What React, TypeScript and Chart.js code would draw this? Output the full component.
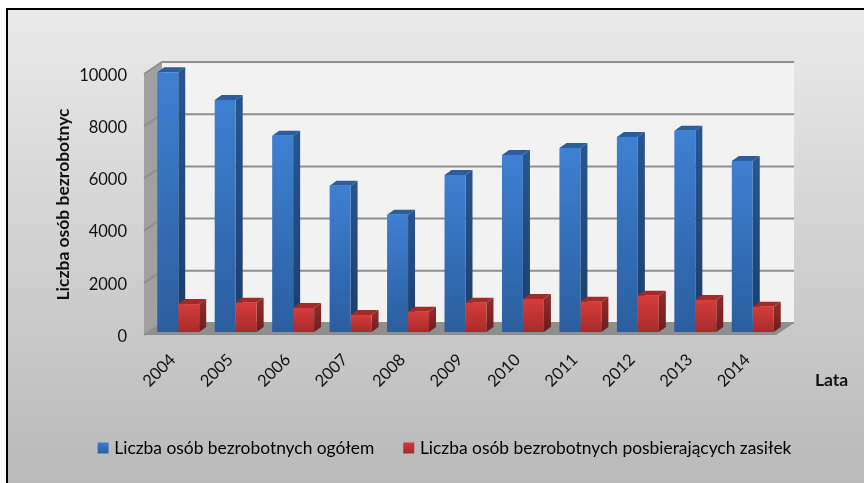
import React, { useEffect, useRef } from "react";
import { Chart, registerables } from "chart.js";

Chart.register(...registerables);

const years = ["2004", "2005", "2006", "2007", "2008", "2009", "2010", "2011", "2012", "2013", "2014"];
const totalUnemployed = [9950, 8890, 7520, 5605, 4490, 6015, 6780, 7050, 7470, 7710, 6550];
const benefitRecipients = [1070, 1120, 920, 650, 780, 1120, 1265, 1160, 1390, 1225, 970];
const yTicks = [0, 2000, 4000, 6000, 8000, 10000];
const seriesNames = ["Liczba osób bezrobotnych ogółem", "Liczba osób bezrobotnych posbierających zasiłek"];
const yTitle = "Liczba osób bezrobotnyc";
const xTitle = "Lata";

const FONT = "Lato, 'Noto Sans', sans-serif";
const WALL_DX = 18;
const WALL_DY = -12;
const BAR_DX = 5.5;
const BAR_DY = -3;
const SIDE_DX = 7;
const SIDE_DY = -5;

const palette = [
  { top: "#3f80d2", bottom: "#2b5e9f", sideTop: "#27558f", sideBottom: "#1b3e6a", lid: "#2c5d9d" },
  { top: "#d63c3a", bottom: "#a72c2c", sideTop: "#8c2b29", sideBottom: "#6c1e1e", lid: "#a32a29" },
];

const scene = {
  id: "scene",
  beforeDraw(chart: any) {
    const { ctx, width, height } = chart;
    ctx.save();
    ctx.fillStyle = "#ffffff";
    ctx.fillRect(0, 0, width, height);
    const g = ctx.createLinearGradient(0, 8, 0, height);
    g.addColorStop(0, "#eaeaea");
    g.addColorStop(1, "#b9b9b9");
    ctx.fillStyle = g;
    ctx.fillRect(6, 8, width - 6, height - 8);
    ctx.fillStyle = "#000000";
    ctx.fillRect(6, 8, width - 6, 2);
    ctx.fillRect(6, 8, 2, height - 8);
    ctx.restore();
  },
  beforeDatasetsDraw(chart: any) {
    const { ctx, chartArea: a, scales } = chart;
    const y = scales.y;
    const l = a.left, r = a.right, t = a.top, b = a.bottom;
    ctx.save();
    const poly = (pts: number[][], fill: string) => {
      ctx.beginPath();
      pts.forEach((p, i) => (i ? ctx.lineTo(p[0], p[1]) : ctx.moveTo(p[0], p[1])));
      ctx.closePath();
      ctx.fillStyle = fill;
      ctx.fill();
    };
    poly([[l + WALL_DX, t + WALL_DY], [r + WALL_DX, t + WALL_DY], [r + WALL_DX, b + WALL_DY], [l + WALL_DX, b + WALL_DY]], "#f2f2f2");
    poly([[l, t], [l + WALL_DX, t + WALL_DY], [l + WALL_DX, b + WALL_DY], [l, b]], "#a0a0a0");
    poly([[l, b], [l + WALL_DX, b + WALL_DY], [r + WALL_DX, b + WALL_DY], [r, b]], "#8e8e8e");
    ctx.lineWidth = 2;
    ctx.strokeStyle = "#8f8f8f";
    yTicks.forEach((v) => {
      const p = y.getPixelForValue(v);
      ctx.beginPath();
      ctx.moveTo(l, p);
      ctx.lineTo(l + WALL_DX, p + WALL_DY);
      ctx.lineTo(r + WALL_DX, p + WALL_DY);
      ctx.stroke();
    });
    ctx.restore();

    ctx.save();
    ctx.translate(BAR_DX, BAR_DY);
    [0, 1].forEach((di) => {
      const c = palette[di];
      chart.getDatasetMeta(di).data.forEach((bar: any) => {
        const x0 = bar.x - bar.width / 2;
        const x1 = bar.x + bar.width / 2;
        const g = ctx.createLinearGradient(0, bar.y, 0, bar.base);
        g.addColorStop(0, c.sideTop);
        g.addColorStop(1, c.sideBottom);
        ctx.fillStyle = g;
        ctx.beginPath();
        ctx.moveTo(x1, bar.y);
        ctx.lineTo(x1 + SIDE_DX, bar.y + SIDE_DY);
        ctx.lineTo(x1 + SIDE_DX, bar.base + SIDE_DY);
        ctx.lineTo(x1, bar.base);
        ctx.closePath();
        ctx.fill();
        ctx.fillStyle = c.lid;
        ctx.beginPath();
        ctx.moveTo(x0, bar.y);
        ctx.lineTo(x0 + SIDE_DX, bar.y + SIDE_DY);
        ctx.lineTo(x1 + SIDE_DX, bar.y + SIDE_DY);
        ctx.lineTo(x1, bar.y);
        ctx.closePath();
        ctx.fill();
      });
    });
  },
  afterDatasetsDraw(chart: any) {
    chart.ctx.restore();
    const { ctx } = chart;
    ctx.save();
    ctx.font = `bold 17.5px ${FONT}`;
    ctx.fillStyle = "#111111";
    ctx.textAlign = "left";
    ctx.textBaseline = "middle";
    ctx.fillText(xTitle, 815, 380);
    ctx.restore();
  },
  afterLayout(chart: any) {
    const lg = chart.legend;
    if (lg) {
      const shift = 446 - (lg.left + lg.right) / 2;
      lg.left += shift;
      lg.right += shift;
      const h = lg.bottom - lg.top;
      lg.top = 437 - h / 2;
      lg.bottom = lg.top + h;
    }
  },
};

function barFill(di: number) {
  return (c: any) => {
    const chart = c.chart;
    if (!chart.chartArea || c.type !== "data") return palette[di].top;
    const y = chart.scales.y;
    const g = chart.ctx.createLinearGradient(0, y.getPixelForValue(c.raw), 0, y.getPixelForValue(0));
    g.addColorStop(0, palette[di].top);
    g.addColorStop(1, palette[di].bottom);
    return g;
  };
}

export default function App() {
  const ref = useRef<HTMLCanvasElement | null>(null);
  useEffect(() => {
    const canvas = ref.current!;
    const ctx2d = canvas.getContext("2d")!;
    const legendFill = (i: number) => {
      const g = ctx2d.createLinearGradient(0, 441, 0, 453);
      g.addColorStop(0, palette[i].top);
      g.addColorStop(1, palette[i].bottom);
      return g;
    };
    const chart = new Chart(canvas, {
      type: "bar",
      data: {
        labels: years,
        datasets: [
          { label: seriesNames[0], data: totalUnemployed, backgroundColor: barFill(0) as any },
          { label: seriesNames[1], data: benefitRecipients, backgroundColor: barFill(1) as any },
        ],
      },
      plugins: [scene],
      options: {
        responsive: false,
        animation: false,
        layout: { padding: { left: 20, right: 88, top: 74, bottom: 0 } },
        datasets: { bar: { barPercentage: 1, categoryPercentage: 0.73, clip: false as any } },
        plugins: {
          tooltip: { enabled: false },
          legend: {
            position: "bottom",
            labels: {
              color: "#1a1a1a",
              font: { family: FONT, size: 17.4 },
              boxWidth: 5,
              boxHeight: 5,
              padding: 32,
              generateLabels: () =>
                seriesNames.map((text, i) => ({
                  text,
                  fillStyle: legendFill(i),
                  strokeStyle: legendFill(i),
                  lineWidth: 6,
                  datasetIndex: i,
                  hidden: false,
                })),
            },
          },
        },
        scales: {
          x: {
            grid: { display: false },
            border: { display: false },
            ticks: { color: "#111111", font: { family: FONT, size: 16.5 }, minRotation: 45, maxRotation: 45, padding: 7 },
            afterFit: (s: any) => {
              s.height = 148 - (s.chart.legend ? s.chart.legend.height : 84);
            },
          },
          y: {
            min: 0,
            max: 10000,
            grid: { display: false },
            border: { display: false },
            ticks: {
              color: "#111111",
              font: { family: FONT, size: 16.5 },
              stepSize: 2000,
              padding: 9,
              labelOffset: 1.5,
              callback: (v: any) => String(v),
            },
            title: { display: true, text: yTitle, color: "#111111", font: { family: FONT, size: 17.5, weight: "bold" }, padding: { top: 33, bottom: 0 } },
            afterFit: (s: any) => {
              s.width = 124;
            },
          },
        },
      },
    });
    return () => chart.destroy();
  }, []);
  return <canvas ref={ref} width={864} height={483} style={{ position: "absolute", left: 0, top: 0, display: "block" }} />;
}
